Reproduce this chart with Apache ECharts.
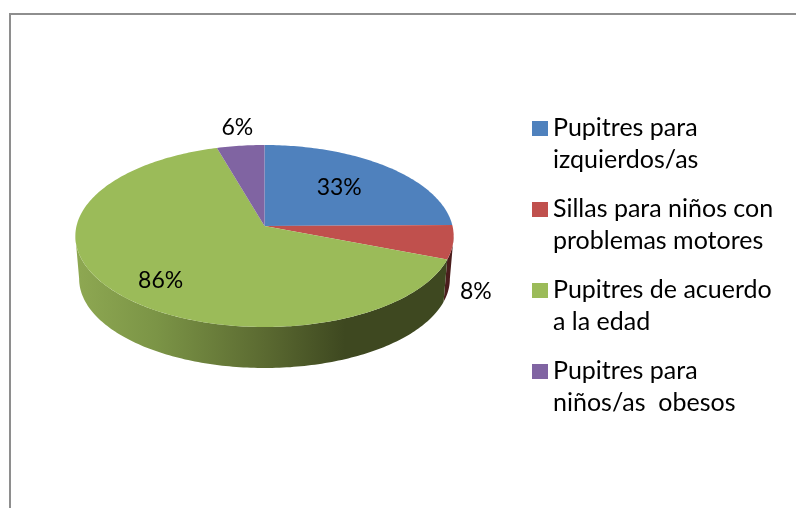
<!DOCTYPE html>
<html>
<head>
<meta charset="utf-8">
<style>html,body{margin:0;padding:0;background:#fff}#c{width:796px;height:508px}</style>
<script src="https://cdn.jsdelivr.net/npm/echarts@6/dist/echarts.min.js"></script>
</head>
<body>
<div id="c"></div>
<script>
const categories = ['Pupitres para\nizquierdos/as', 'Sillas para niños con\nproblemas motores', 'Pupitres de acuerdo\na la edad', 'Pupitres para\nniños/as  obesos'];
const values = [33, 8, 86, 6];
const labels = ['33%', '8%', '86%', '6%'];
const colors = ['#4F81BD', '#C0504D', '#9BBB59', '#8064A2'];

// perspective disc geometry
const apex = {x: 264.5, y: 226};
const persp = 0.11, rx = 188, ry = 89.9;
const depth = 43, wallScale = 0.98;
const silhouetteLeft = 263.7, silhouetteRight = 96.3;
// label placement (radius as a fraction of the disc, then small pixel nudge)
const labelRadius = [0.6, 1.2, 0.75, 1.2];
const labelNudge = [[-1, -2], [-16, 46], [6, 6], [1, -4]];
const total = values.reduce((a, b) => a + b, 0);

function project(deg, r, scale, dy) {
  const t = deg * Math.PI / 180, u = r * Math.sin(t), v = r * Math.cos(t);
  const d = 1 + persp * v;
  return [apex.x + scale * rx * u / d, apex.y + dy - scale * ry * v / d];
}
function arc(a, b, scale, dy) {
  const pts = [], n = Math.max(2, Math.ceil(Math.abs(b - a)));
  for (let i = 0; i <= n; i++) pts.push(project(a + (b - a) * i / n, 1, scale, dy));
  return pts;
}
function wall(a, b, fill) {
  return {type: 'polygon', shape: {points: arc(a, b, 1, 0).concat(arc(b, a, wallScale, depth))}, style: {fill: fill}};
}
const wallFill = {
  1: '#4A1D1C',
  2: {type: 'linear', x: 76, y: 0, x2: 345, y2: 0, global: true, colorStops: [
    {offset: 0, color: '#8EA852'}, {offset: 0.3, color: '#7B9446'},
    {offset: 0.7, color: '#5B6A31'}, {offset: 1, color: '#3E4820'}]}
};

function makeRender(idx) {
  return function (params, api) {
    const before = values.slice(0, idx).reduce((a, b) => a + b, 0);
    const start = before / total * 360;
    const end = start + api.value(0) / total * 360;
    const mid = (start + end) / 2;
    const children = [];
    if (wallFill[idx]) {
      const a = Math.max(start, silhouetteRight), b = Math.min(end, silhouetteLeft);
      if (b > a) children.push(wall(a, b, wallFill[idx]));
    }
    children.push({type: 'polygon', shape: {points: [[apex.x, apex.y]].concat(arc(start, end, 1, 0))}, style: {fill: colors[idx]}});
    const p = project(mid, labelRadius[idx], 1, 0);
    children.push({type: 'text', z2: 10, style: {
      x: p[0] + labelNudge[idx][0], y: p[1] + labelNudge[idx][1], text: labels[idx],
      align: 'center', verticalAlign: 'middle', fill: '#000',
      font: '23px Lato, sans-serif'}});
    return {type: 'group', children: children};
  };
}

const chart = echarts.init(document.getElementById('c'), null, {renderer: 'canvas'});
chart.setOption({
  backgroundColor: '#fff',
  animation: false,
  color: colors,
  graphic: [{type: 'polyline', silent: true, shape: {points: [[10, 520], [10, 14], [810, 14]]},
    style: {stroke: '#8E8E8E', lineWidth: 2, fill: null}}],
  legend: {
    orient: 'vertical', left: 532, top: 112, padding: 0, itemGap: 17,
    itemWidth: 16, itemHeight: 64, symbolKeepAspect: false,
    icon: 'path://M0 0H0ZM0 9H16V24H0ZM0 64H0Z',
    textStyle: {fontFamily: 'Lato, sans-serif', fontSize: 25, lineHeight: 32, color: '#000'},
    data: categories, selectedMode: false
  },
  series: categories.map((name, i) => ({
    type: 'custom', name: name, coordinateSystem: 'none',
    itemStyle: {color: colors[i]}, data: [[values[i]]], renderItem: makeRender(i), silent: true
  }))
});
</script>
</body>
</html>
